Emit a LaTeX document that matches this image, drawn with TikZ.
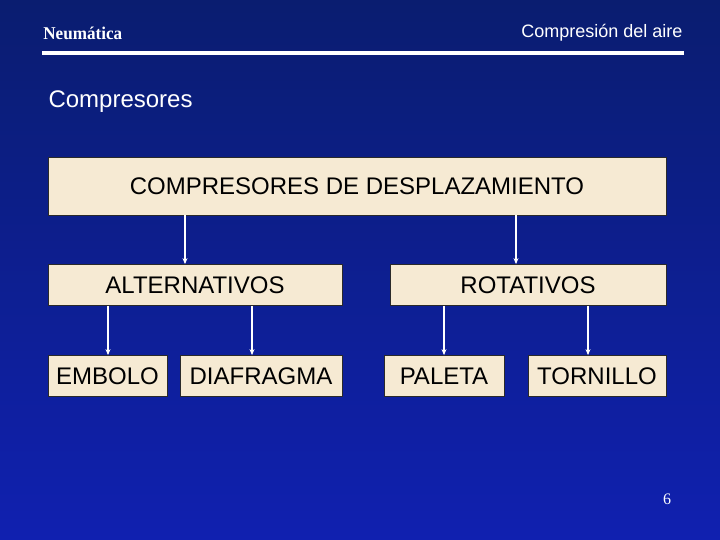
\documentclass[tikz,border=0pt]{standalone}
\usepackage{fontspec}
\setmainfont{Liberation Sans}
\newfontfamily\serifb{Liberation Serif}
\usetikzlibrary{arrows.meta}
\definecolor{bgtop}{HTML}{0A1D70}
\definecolor{bgbot}{HTML}{1020B0}
\definecolor{boxfill}{HTML}{F6EAD3}
\definecolor{boxline}{HTML}{2A2A2A}
\tikzset{
  boxnode/.style={draw=boxline, line width=0.8pt, fill=boxfill, inner sep=0pt, text=black, font=\fontsize{24}{28}\selectfont},
  conn/.style={draw=white, line width=1.3pt, -{Stealth[length=6pt,width=5pt]}},
}
\begin{document}
\begin{tikzpicture}[x=1pt,y=-1pt]
\shade[top color=bgtop, bottom color=bgbot] (0,0) rectangle (720,540);
\useasboundingbox (0,0) rectangle (720,540);
% header
\node[anchor=west, text=white, font=\serifb\bfseries\fontsize{18}{21}\selectfont, xscale=0.95] (hl) at (40,33) {Neumática};
\node[anchor=east, text=white, font=\fontsize{18}{21}\selectfont] (hr) at (686,33) {Compresión del aire};
\fill[white] (42,51.5) rectangle (684,55);
\node[anchor=west, text=white, font=\fontsize{24}{28}\selectfont] (title) at (45,102) {Compresores};
% boxes
\node[boxnode, minimum width=618pt, minimum height=58pt] (top) at (357,186) {COMPRESORES DE DESPLAZAMIENTO};
\node[boxnode, minimum width=294pt, minimum height=41pt] (alt) at (195,285) {ALTERNATIVOS};
\node[boxnode, minimum width=276pt, minimum height=41pt] (rot) at (528,285) {ROTATIVOS};
\node[boxnode, minimum width=119pt, minimum height=41pt] (emb) at (107.5,376) {EMBOLO};
\node[boxnode, minimum width=162pt, minimum height=41pt] (dia) at (261,376) {DIAFRAGMA};
\node[boxnode, minimum width=120pt, minimum height=41pt] (pal) at (444,376) {PALETA};
\node[boxnode, minimum width=138pt, minimum height=41pt] (tor) at (597,376) {TORNILLO};
% connectors
\draw[conn] (top.south -| 185,0) -- (alt.north -| 185,0);
\draw[conn] (top.south -| 516,0) -- (rot.north -| 516,0);
\draw[conn] (alt.south -| 108,0) -- (emb.north -| 108,0);
\draw[conn] (alt.south -| 252,0) -- (dia.north -| 252,0);
\draw[conn] (rot.south -| 444,0) -- (pal.north -| 444,0);
\draw[conn] (rot.south -| 588,0) -- (tor.north -| 588,0);
% page number
\node[text=white, font=\serifb\fontsize{16}{18}\selectfont] (pg) at (667,499) {6};
\end{tikzpicture}
\end{document}
